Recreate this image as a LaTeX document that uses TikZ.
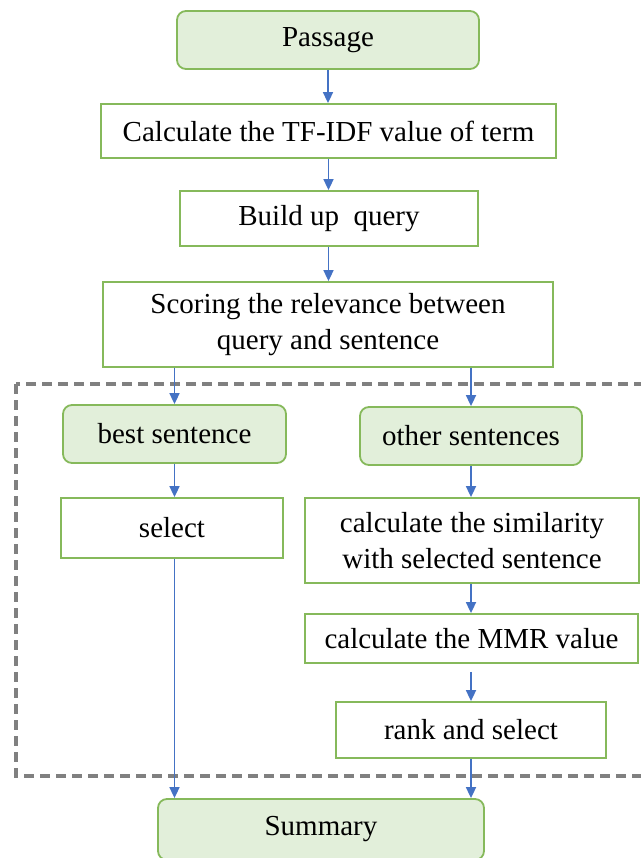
\documentclass[tikz,border=0pt]{standalone}
\usepackage{fontspec}
\setmainfont{Liberation Serif}
\usetikzlibrary{arrows.meta}
\definecolor{bordergreen}{HTML}{86B95B}
\definecolor{fillgreen}{HTML}{E2EFDA}
\definecolor{arrowblue}{HTML}{4472C4}
\definecolor{dashgray}{HTML}{808080}
\tikzset{
  basebox/.style={draw=bordergreen, line width=1.8pt, inner sep=0pt, align=center,
    font=\fontsize{29}{36}\selectfont},
  plainbox/.style={basebox, fill=white},
  roundbox/.style={basebox, fill=fillgreen, rounded corners=9pt},
  arr/.style={draw=arrowblue, line width=1.7pt, -{Triangle[width=10pt,length=11pt]}},
  groupbox/.style={draw=dashgray, line width=3.2pt, dash pattern=on 10pt off 6pt}
}
\begin{document}
\begin{tikzpicture}[x=1pt,y=-1pt]
\useasboundingbox (0,0) rectangle (640,858);
% group
\draw[groupbox] (16,384) rectangle (650,776);
% nodes
\node[roundbox, minimum width=302pt, minimum height=58pt] (passage) at (328,40) {Passage};
\node[plainbox, minimum width=455pt, minimum height=54pt] (tfidf) at (328.5,131) {Calculate the TF-IDF value of term};
\node[plainbox, minimum width=298pt, minimum height=55pt] (query) at (329,218.5) {Build up\ \ query};
\node[plainbox, minimum width=450pt, minimum height=85pt] (scoring) at (328,324.5) {Scoring the relevance between\\query and sentence};
\node[roundbox, minimum width=223pt, minimum height=58pt] (best) at (174.5,434) {best sentence};
\node[roundbox, minimum width=222pt, minimum height=58pt] (other) at (471,436) {other sentences};
\node[plainbox, minimum width=222pt, minimum height=60pt] (select) at (172,528) {select};
\node[plainbox, minimum width=334pt, minimum height=85pt] (simil) at (472,540.5) {calculate the similarity\\with selected sentence};
\node[plainbox, minimum width=333pt, minimum height=49pt] (mmr) at (471.5,638.5) {calculate the MMR value};
\node[plainbox, minimum width=270pt, minimum height=56pt] (rank) at (471,730) {rank and select};
\node[roundbox, minimum width=326pt, minimum height=61pt] (summary) at (321,829.5) {Summary};
% connectors
\draw[arr] (passage.south) -- (passage.south |- tfidf.north);
\draw[arr] (tfidf.south) -- (tfidf.south |- query.north);
\draw[arr] (query.south -| tfidf.south) -- (tfidf.south |- scoring.north);
\draw[arr] (best.north |- scoring.south) -- (best.north);
\draw[arr] (other.north |- scoring.south) -- (other.north);
\draw[arr] (best.south) -- (best.south |- select.north);
\draw[arr] (other.south) -- (other.south |- simil.north);
\draw[arr] (other.south |- simil.south) -- (other.south |- mmr.north);
\draw[arr, shorten <=8pt] (other.south |- mmr.south) -- (other.south |- rank.north);
\draw[arr] (best.south |- select.south) -- (best.south |- summary.north);
\draw[arr] (other.south |- rank.south) -- (other.south |- summary.north);
\end{tikzpicture}
\end{document}
